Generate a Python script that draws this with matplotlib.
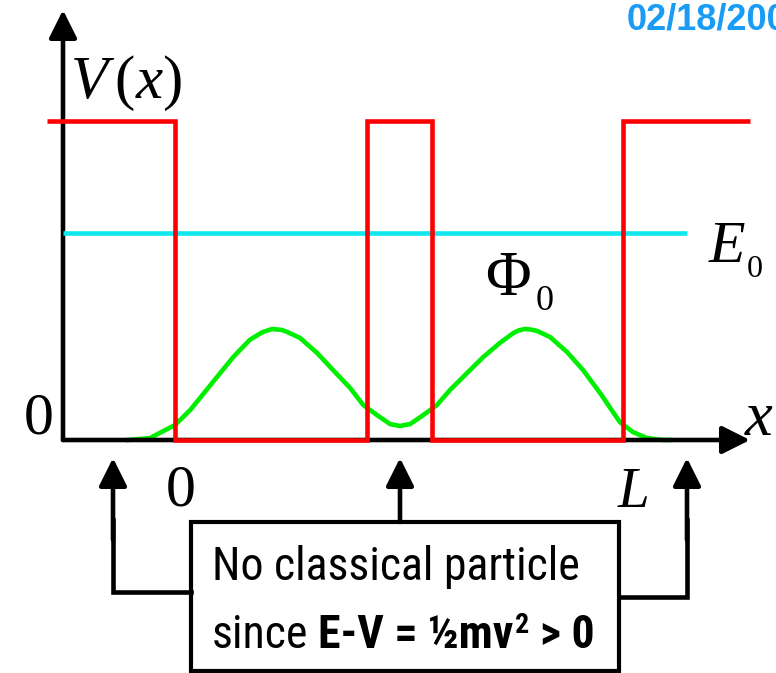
import matplotlib
matplotlib.use('Agg')
import matplotlib.pyplot as plt
from matplotlib import font_manager
from matplotlib.patches import Rectangle

# --- data (x in units of L, energies in units of the barrier height V0) ---
x_pot = [-0.286, 0.0, 0.0, 0.429, 0.429, 0.574, 0.574, 1.0, 1.0, 1.283]
v_pot = [1.0, 1.0, 0.0, 0.0, 1.0, 1.0, 0.0, 0.0, 1.0, 1.0]

E0 = 0.65
E0_span = [-0.25, 1.143]

# ground state wavefunction
x_psi = [-0.105, -0.056, 0.0, 0.034, 0.056, 0.094, 0.130, 0.167, 0.195, 0.217, 0.238, 0.250,
         0.279, 0.317, 0.353, 0.391, 0.420, 0.451, 0.480, 0.502, 0.525, 0.554,
         0.585, 0.614, 0.652, 0.688, 0.725, 0.755, 0.768, 0.781, 0.795, 0.808, 0.837, 0.875,
         0.911, 0.949, 0.993, 1.022, 1.054, 1.089, 1.105]
psi = [0.0, 0.006, 0.047, 0.094, 0.132, 0.198, 0.260, 0.314, 0.338, 0.348, 0.345, 0.339,
       0.320, 0.273, 0.219, 0.163, 0.110, 0.078, 0.050, 0.044, 0.050, 0.078,
       0.110, 0.157, 0.210, 0.260, 0.304, 0.335, 0.344, 0.348, 0.346, 0.342, 0.323, 0.276,
       0.219, 0.147, 0.056, 0.025, 0.006, 0.0, 0.0]

W, H = 776, 673
fig = plt.figure(figsize=(W / 100, H / 100), dpi=100)
ax = fig.add_axes([0, 0, 1, 1])
# pixel scale of the diagram: origin of L-axis at px 175, x-axis at py 440
ax.set_xlim(-175 / 448, (W - 175) / 448)
ax.set_ylim((440 - H) / 319, 440 / 319)
ax.axis('off')


def P(px, py):
    # pixel position -> axes fraction (for labels and the note box)
    return px / W, 1 - py / H


names = {f.name for f in font_manager.fontManager.ttflist}
narrow, box_fs = 'Liberation Sans', 29
for cand in ['Liberation Sans Narrow', 'Arial Narrow', 'Roboto Condensed', 'Open Sans Condensed']:
    if cand in names:
        narrow, box_fs = cand, 33
        break

plt.rcParams['mathtext.fontset'] = 'custom'
plt.rcParams['mathtext.rm'] = 'Liberation Serif'
plt.rcParams['mathtext.it'] = 'Liberation Serif:italic'

LW = 3.3
black = 'black'
apro = dict(arrowstyle='-|>,head_length=1.7,head_width=0.85', mutation_scale=10,
            lw=LW, color=black, shrinkA=0, shrinkB=0)

# wavefunction (under the axes)
ax.plot(x_psi, psi, color='#00ee00', lw=LW, zorder=2, solid_joinstyle='round')

# axes with arrows
ax.annotate('', xy=(1.2835, 0), xytext=(-0.25, 0), xycoords='data', arrowprops=apro, zorder=3)
ax.annotate('', xy=(-0.25, 1.348), xytext=(-0.25, 0), xycoords='data', arrowprops=apro, zorder=3)

# energy level and potential
ax.plot(E0_span, [E0, E0], color='#10e6f0', lw=LW, zorder=4, solid_capstyle='butt')
ax.plot(x_pot, v_pot, color='#ff0000', lw=LW, zorder=5, solid_joinstyle='miter',
        solid_capstyle='butt')

serif = 'Liberation Serif'
ax.text(*P(70, 98), r'$V\,(x)$', transform=ax.transAxes, fontsize=44, va='baseline')
ax.text(*P(54, 433), '0', transform=ax.transAxes, fontsize=43, family=serif, ha='right', va='baseline')
ax.text(*P(166, 505), '0', transform=ax.transAxes, fontsize=43, family=serif, va='baseline')
ax.text(*P(618, 507), 'L', transform=ax.transAxes, fontsize=41, family=serif, style='italic', va='baseline')
ax.text(*P(745, 435), 'x', transform=ax.transAxes, fontsize=45, family=serif, style='italic', va='baseline')
ax.text(*P(709, 262), 'E', transform=ax.transAxes, fontsize=43, family=serif, style='italic', va='baseline')
ax.text(*P(747, 277), '0', transform=ax.transAxes, fontsize=23, family=serif, va='baseline')
ax.text(*P(485, 295), 'Φ', transform=ax.transAxes, fontsize=45, family=serif, va='baseline')
ax.text(*P(536, 310), '0', transform=ax.transAxes, fontsize=26, family=serif, va='baseline')

# date stamp, cut by the right edge as in the slide
ax.text(*P(627, 30), '02/18/2004', transform=ax.transAxes, fontsize=26, family='Liberation Sans',
        weight='bold', color='#1a9cf5', va='baseline')

# note box and its pointers
bx0, by0, bx1, by1 = 191, 522, 619, 671
ax.add_patch(Rectangle(P(bx0, by1), (bx1 - bx0) / W, (by1 - by0) / H, transform=ax.transAxes,
                       fill=False, lw=3.0, ec=black, zorder=6))
ax.plot(*zip(P(bx0, 592), P(113, 592), P(113, 520)), transform=ax.transAxes, color=black,
        lw=LW, solid_joinstyle='miter')
ax.plot(*zip(P(bx1, 597), P(687, 597), P(687, 520)), transform=ax.transAxes, color=black,
        lw=LW, solid_joinstyle='miter')
for px, py0 in [(113, 540), (400, by0), (687, 540)]:
    ax.annotate('', xy=P(px, 458), xytext=P(px, py0), xycoords='axes fraction', arrowprops=apro)

ax.text(*P(212, 580), 'No classical particle', transform=ax.transAxes, fontsize=box_fs,
        family=narrow, va='baseline')

# second line built from pieces so the bold part and the superscript line up
r = fig.canvas.get_renderer()
k = box_fs / 36
pieces = [('since', 'normal', box_fs, 0, 0), ('E-V = ½mv', 'bold', box_fs, 11 * k, 0),
          ('2', 'bold', 22 * k, 1, 16 * k), ('> 0', 'bold', box_fs, 12 * k, 0)]
cur = 212
for s, w, fs, gap, rise in pieces:
    cur += gap
    t = ax.text(*P(cur, 648 - rise), s, transform=ax.transAxes, fontsize=fs, family=narrow,
                weight=w, va='baseline')
    cur = t.get_window_extent(r).x1

fig.savefig('out.png', dpi=100)
